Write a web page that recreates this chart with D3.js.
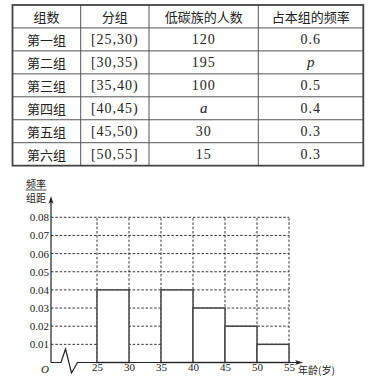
<!DOCTYPE html>
<html lang="zh">
<head>
<meta charset="UTF-8">
<title>低碳族频率分布直方图</title>
<script src="https://d3js.org/d3.v7.min.js"></script>
<style>
  html, body { margin: 0; padding: 0; background: #fff; }
  svg { display: block; }
  .cjk { font-family: "Noto Sans CJK SC", sans-serif; }
  .num { font-family: "Liberation Serif", "DejaVu Serif", serif; }
</style>
</head>
<body>
<div id="chart"></div>
<script>
// table data
const headers = ['组数', '分组', '低碳族的人数', '占本组的频率'];
const groupNames = ['第一组', '第二组', '第三组', '第四组', '第五组', '第六组'];
const intervals = ['[25,30)', '[30,35)', '[35,40)', '[40,45)', '[45,50)', '[50,55]'];
const counts = ['120', '195', '100', 'a', '30', '15'];
const rates = ['0.6', 'p', '0.5', '0.4', '0.3', '0.3'];

// histogram data
const binStarts = [25, 30, 35, 40, 45, 50];
const binWidth = 5;
const densities = [0.04, null, 0.04, 0.03, 0.02, 0.01];
const yTicks = [0.01, 0.02, 0.03, 0.04, 0.05, 0.06, 0.07, 0.08];
const xTicks = [25, 30, 35, 40, 45, 50, 55];

const W = 373, H = 378;
const svg = d3.select('#chart').append('svg')
  .attr('width', W).attr('height', H);

// ---------- table ----------
const colEdges = [12.5, 80.7, 149, 258.3, 363.3];
const rowTop = 5, rowH = 22.95, nRows = 7;
const tbl = svg.append('g');

const rowsData = [headers].concat(groupNames.map((g, i) => [g, intervals[i], counts[i], rates[i]]));

// inner lines
for (let r = 1; r < nRows; r++) {
  tbl.append('line')
    .attr('x1', colEdges[0]).attr('x2', colEdges[4])
    .attr('y1', rowTop + r * rowH).attr('y2', rowTop + r * rowH)
    .attr('stroke', '#555').attr('stroke-width', 1);
}
for (let c = 1; c < 4; c++) {
  tbl.append('line')
    .attr('x1', colEdges[c]).attr('x2', colEdges[c])
    .attr('y1', rowTop).attr('y2', rowTop + nRows * rowH)
    .attr('stroke', '#555').attr('stroke-width', 1);
}
tbl.append('rect')
  .attr('x', colEdges[0]).attr('y', rowTop)
  .attr('width', colEdges[4] - colEdges[0]).attr('height', nRows * rowH)
  .attr('fill', 'none').attr('stroke', '#444').attr('stroke-width', 1.8);

rowsData.forEach((row, r) => {
  row.forEach((txt, c) => {
    const cx = (colEdges[c] + colEdges[c + 1]) / 2;
    const cy = rowTop + r * rowH + rowH / 2;
    const italic = (txt === 'a' || txt === 'p');
    const isCjk = /[\u4e00-\u9fff]/.test(txt);
    const t = tbl.append('text')
      .attr('x', cx).attr('y', cy)
      .attr('text-anchor', 'middle')
      .attr('dominant-baseline', 'central')
      .attr('fill', '#222')
      .text(txt);
    if (isCjk) {
      t.attr('class', 'cjk').attr('font-size', 13);
    } else {
      t.attr('class', 'num').attr('font-size', italic ? 15 : 14)
        .attr('font-style', italic ? 'italic' : 'normal')
        .attr('letter-spacing', italic ? 0 : 1);
    }
  });
});

// ---------- histogram ----------
const x = d3.scaleLinear().domain([25, 55]).range([97, 289]);
const y = d3.scaleLinear().domain([0, 0.08]).range([362.5, 217.3]);
const axisX = 51;
const base = y(0);

const g = svg.append('g');

// grid
g.selectAll('line.hgrid').data(yTicks).enter().append('line')
  .attr('class', 'hgrid')
  .attr('x1', axisX).attr('x2', x(55))
  .attr('y1', d => y(d)).attr('y2', d => y(d))
  .attr('stroke', '#333').attr('stroke-width', 1)
  .attr('stroke-dasharray', '2.5,1.8');
g.selectAll('line.vgrid').data(xTicks).enter().append('line')
  .attr('class', 'vgrid')
  .attr('x1', d => x(d)).attr('x2', d => x(d))
  .attr('y1', base).attr('y2', y(0.08))
  .attr('stroke', '#333').attr('stroke-width', 1)
  .attr('stroke-dasharray', '2.5,1.8');

// bars
const bins = binStarts.map((s, i) => ({ s, d: densities[i] })).filter(b => b.d !== null);
g.selectAll('rect.bar').data(bins).enter().append('rect')
  .attr('class', 'bar')
  .attr('x', b => x(b.s)).attr('y', b => y(b.d))
  .attr('width', b => x(b.s + binWidth) - x(b.s))
  .attr('height', b => base - y(b.d))
  .attr('fill', '#fff').attr('stroke', '#444').attr('stroke-width', 1.5);

// axes
const axisColor = '#222';
g.append('line')
  .attr('x1', axisX).attr('x2', axisX).attr('y1', base).attr('y2', 201)
  .attr('stroke', axisColor).attr('stroke-width', 1.2);
g.append('path')
  .attr('d', `M${axisX},196 L${axisX - 2.5},204 L${axisX},202 L${axisX + 2.5},204 Z`)
  .attr('fill', axisColor);

const breakPts = [[axisX, base], [61, base], [65.5, 349], [71.5, 373], [77.5, base], [297, base]];
g.append('path')
  .attr('d', d3.line()(breakPts))
  .attr('fill', 'none').attr('stroke', axisColor).attr('stroke-width', 1.2);
g.append('path')
  .attr('d', `M303,${base} L295,${base - 2.5} L297,${base} L295,${base + 2.5} Z`)
  .attr('fill', axisColor);

// y tick labels
const yAxis = d3.axisLeft(y).tickValues(yTicks).tickSize(0).tickPadding(0)
  .tickFormat(d3.format('.2f'));
const yg = g.append('g').attr('transform', `translate(${axisX - 2},0)`).call(yAxis);
yg.select('.domain').remove();
yg.selectAll('text').attr('class', 'num').attr('font-size', 11).attr('fill', '#222')
  .attr('font-family', null);

// x tick labels
const xAxis = d3.axisBottom(x).tickValues(xTicks).tickSize(0).tickPadding(0);
const xg = g.append('g').attr('transform', `translate(0,${base + 1})`).call(xAxis);
xg.select('.domain').remove();
xg.selectAll('text').attr('class', 'num').attr('font-size', 11).attr('fill', '#222')
  .attr('font-family', null);

// origin
g.append('text').attr('class', 'num')
  .attr('x', 45).attr('y', 373)
  .attr('text-anchor', 'middle')
  .attr('font-size', 11).attr('font-style', 'italic').attr('fill', '#222')
  .text('O');

// axis titles
g.append('text').attr('class', 'cjk')
  .attr('x', 298).attr('y', 373.5)
  .attr('font-size', 10).attr('fill', '#222')
  .text('年龄(岁)');
g.append('text').attr('class', 'cjk')
  .attr('x', 36).attr('y', 183)
  .attr('text-anchor', 'middle')
  .attr('dominant-baseline', 'central')
  .attr('font-size', 10).attr('fill', '#222')
  .text('频率');
g.append('line')
  .attr('x1', 25.5).attr('x2', 46.5).attr('y1', 190).attr('y2', 190)
  .attr('stroke', '#222').attr('stroke-width', 0.8);
g.append('text').attr('class', 'cjk')
  .attr('x', 36).attr('y', 197.5)
  .attr('text-anchor', 'middle')
  .attr('dominant-baseline', 'central')
  .attr('font-size', 10).attr('fill', '#222')
  .text('组距');
</script>
</body>
</html>
